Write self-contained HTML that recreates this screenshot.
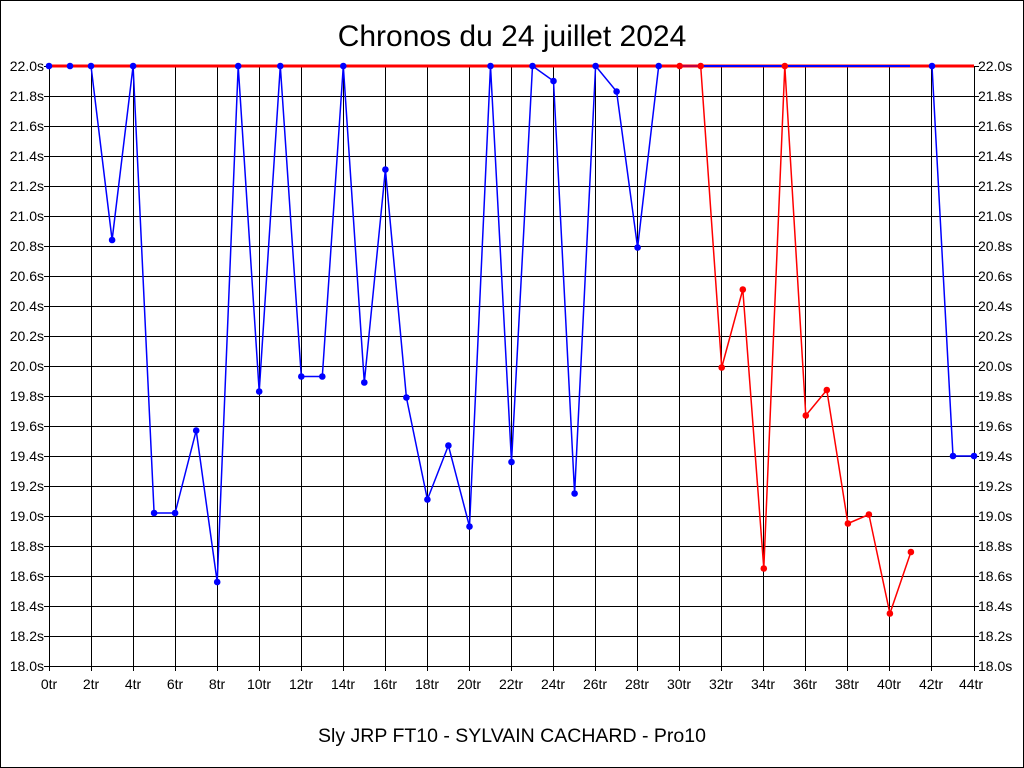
<!DOCTYPE html><html><head><style>body{margin:0;background:#fff}svg{display:block}text{font-family:"Liberation Sans",sans-serif}</style></head><body>
<svg width="1024" height="768" xmlns="http://www.w3.org/2000/svg">
<rect x="0.5" y="0.5" width="1023" height="767" fill="#fff" stroke="#000"/>
<text x="512" y="46" font-size="30" text-anchor="middle">Chronos du 24 juillet 2024</text>
<text x="512" y="742" font-size="19.5" text-anchor="middle">Sly JRP FT10 - SYLVAIN CACHARD - Pro10</text>
<g stroke="#000" stroke-width="1" fill="none">
<path d="M44 66.5H979M44 96.5H979M44 126.5H979M44 156.5H979M44 186.5H979M44 216.5H979M44 246.5H979M44 276.5H979M44 306.5H979M44 336.5H979M44 366.5H979M44 396.5H979M44 426.5H979M44 456.5H979M44 486.5H979M44 516.5H979M44 546.5H979M44 576.5H979M44 606.5H979M44 636.5H979M44 666.5H979"/>
<path d="M49.5 66V671M91.5 66V671M133.5 66V671M175.5 66V671M217.5 66V671M259.5 66V671M301.5 66V671M343.5 66V671M385.5 66V671M427.5 66V671M469.5 66V671M511.5 66V671M553.5 66V671M595.5 66V671M637.5 66V671M679.5 66V671M721.5 66V671M763.5 66V671M805.5 66V671M847.5 66V671M889.5 66V671M931.5 66V671M974.5 66V671"/>
</g>
<g font-size="14" text-anchor="end">
<text x="44" y="71">22.0s</text><text x="44" y="101">21.8s</text><text x="44" y="131">21.6s</text><text x="44" y="161">21.4s</text><text x="44" y="191">21.2s</text><text x="44" y="221">21.0s</text><text x="44" y="251">20.8s</text><text x="44" y="281">20.6s</text><text x="44" y="311">20.4s</text><text x="44" y="341">20.2s</text><text x="44" y="371">20.0s</text><text x="44" y="401">19.8s</text><text x="44" y="431">19.6s</text><text x="44" y="461">19.4s</text><text x="44" y="491">19.2s</text><text x="44" y="521">19.0s</text><text x="44" y="551">18.8s</text><text x="44" y="581">18.6s</text><text x="44" y="611">18.4s</text><text x="44" y="641">18.2s</text><text x="44" y="671">18.0s</text>
</g>
<g font-size="14">
<text x="978" y="71">22.0s</text><text x="978" y="101">21.8s</text><text x="978" y="131">21.6s</text><text x="978" y="161">21.4s</text><text x="978" y="191">21.2s</text><text x="978" y="221">21.0s</text><text x="978" y="251">20.8s</text><text x="978" y="281">20.6s</text><text x="978" y="311">20.4s</text><text x="978" y="341">20.2s</text><text x="978" y="371">20.0s</text><text x="978" y="401">19.8s</text><text x="978" y="431">19.6s</text><text x="978" y="461">19.4s</text><text x="978" y="491">19.2s</text><text x="978" y="521">19.0s</text><text x="978" y="551">18.8s</text><text x="978" y="581">18.6s</text><text x="978" y="611">18.4s</text><text x="978" y="641">18.2s</text><text x="978" y="671">18.0s</text>
</g>
<g font-size="14" text-anchor="middle">
<text x="49" y="689">0tr</text><text x="91" y="689">2tr</text><text x="133" y="689">4tr</text><text x="175" y="689">6tr</text><text x="217" y="689">8tr</text><text x="259" y="689">10tr</text><text x="301" y="689">12tr</text><text x="343" y="689">14tr</text><text x="385" y="689">16tr</text><text x="427" y="689">18tr</text><text x="469" y="689">20tr</text><text x="511" y="689">22tr</text><text x="553" y="689">24tr</text><text x="595" y="689">26tr</text><text x="637" y="689">28tr</text><text x="679" y="689">30tr</text><text x="721" y="689">32tr</text><text x="763" y="689">34tr</text><text x="805" y="689">36tr</text><text x="847" y="689">38tr</text><text x="889" y="689">40tr</text><text x="931" y="689">42tr</text><text x="971" y="689">44tr</text>
</g>
<polyline fill="none" stroke="#0000ff" stroke-width="1.5" points="49,66 70,66 91,66 112.1,240 133.1,66 154.1,513 175.1,513 196.2,430.5 217.2,582 238.2,66 259.2,391.5 280.3,66 301.3,376.5 322.3,376.5 343.3,66 364.3,382.5 385.4,169.5 406.4,397.5 427.4,499.5 448.4,445.5 469.5,526.5 490.5,66 511.5,462 532.5,66 553.5,81 574.6,493.5 595.6,66 616.6,91.5 637.6,247.5 658.7,66"/>
<line x1="49" y1="66" x2="974" y2="66" stroke="#ff0000" stroke-width="3"/>
<line x1="679.7" y1="66" x2="910" y2="66" stroke="#0000ff" stroke-width="2"/>
<polyline fill="none" stroke="#ff0000" stroke-width="1.5" points="679.7,66 700.7,66 721.7,367.5 742.8,289.5 763.8,568.5 784.8,66 805.8,415.5 826.8,390 847.9,523.5 868.9,514.5 889.9,613.5 910.9,552"/>
<polyline fill="none" stroke="#0000ff" stroke-width="1.5" points="932,66 953,456 974,456"/>
<g fill="#0000ff">
<circle cx="49" cy="66" r="3.3"/><circle cx="70" cy="66" r="3.3"/><circle cx="91" cy="66" r="3.3"/><circle cx="112.1" cy="240" r="3.3"/><circle cx="133.1" cy="66" r="3.3"/><circle cx="154.1" cy="513" r="3.3"/><circle cx="175.1" cy="513" r="3.3"/><circle cx="196.2" cy="430.5" r="3.3"/><circle cx="217.2" cy="582" r="3.3"/><circle cx="238.2" cy="66" r="3.3"/><circle cx="259.2" cy="391.5" r="3.3"/><circle cx="280.3" cy="66" r="3.3"/><circle cx="301.3" cy="376.5" r="3.3"/><circle cx="322.3" cy="376.5" r="3.3"/><circle cx="343.3" cy="66" r="3.3"/><circle cx="364.3" cy="382.5" r="3.3"/><circle cx="385.4" cy="169.5" r="3.3"/><circle cx="406.4" cy="397.5" r="3.3"/><circle cx="427.4" cy="499.5" r="3.3"/><circle cx="448.4" cy="445.5" r="3.3"/><circle cx="469.5" cy="526.5" r="3.3"/><circle cx="490.5" cy="66" r="3.3"/><circle cx="511.5" cy="462" r="3.3"/><circle cx="532.5" cy="66" r="3.3"/><circle cx="553.5" cy="81" r="3.3"/><circle cx="574.6" cy="493.5" r="3.3"/><circle cx="595.6" cy="66" r="3.3"/><circle cx="616.6" cy="91.5" r="3.3"/><circle cx="637.6" cy="247.5" r="3.3"/><circle cx="658.7" cy="66" r="3.3"/><circle cx="932" cy="66" r="3.3"/><circle cx="953" cy="456" r="3.3"/><circle cx="974" cy="456" r="3.3"/>
</g>
<g fill="#ff0000">
<circle cx="679.7" cy="66" r="3.3"/><circle cx="700.7" cy="66" r="3.3"/><circle cx="721.7" cy="367.5" r="3.3"/><circle cx="742.8" cy="289.5" r="3.3"/><circle cx="763.8" cy="568.5" r="3.3"/><circle cx="784.8" cy="66" r="3.3"/><circle cx="805.8" cy="415.5" r="3.3"/><circle cx="826.8" cy="390" r="3.3"/><circle cx="847.9" cy="523.5" r="3.3"/><circle cx="868.9" cy="514.5" r="3.3"/><circle cx="889.9" cy="613.5" r="3.3"/><circle cx="910.9" cy="552" r="3.3"/>
</g>
</svg></body></html>
